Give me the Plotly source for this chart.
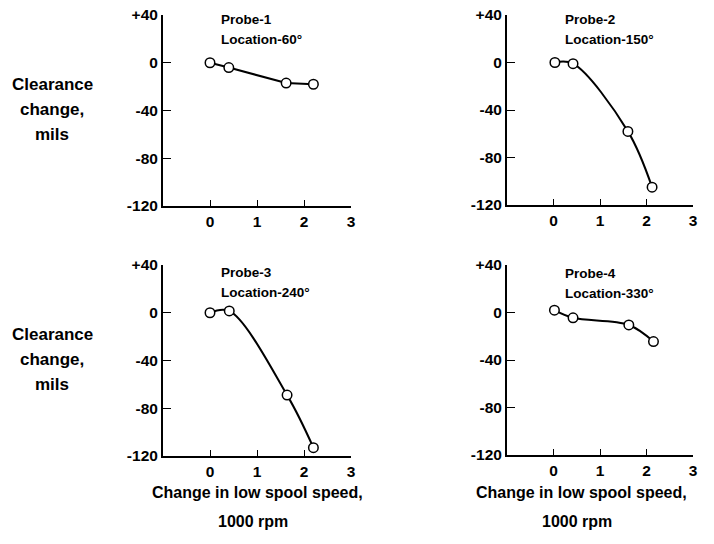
import plotly.graph_objects as go

# ---- data ----
speed_p1 = [0.0, 0.40, 1.62, 2.20]
clear_p1 = [0.0, -4.0, -17.0, -18.0]

speed_p2 = [0.03, 0.42, 1.60, 2.12]
clear_p2 = [0.0, -1.0, -58.0, -105.0]

speed_p3 = [0.0, 0.41, 1.64, 2.20]
clear_p3 = [0.0, 1.5, -69.0, -113.0]

speed_p4 = [0.02, 0.42, 1.62, 2.15]
clear_p4 = [2.0, -4.5, -10.5, -24.5]

probe_names = ["Probe-1", "Probe-2", "Probe-3", "Probe-4"]
probe_locations = ["Location-60°", "Location-150°", "Location-240°", "Location-330°"]

x_ticks = [0, 1, 2, 3]
y_ticks = [40, 0, -40, -80, -120]
y_tick_text = ["+40", "0", "-40", "-80", "-120"]

y_title_lines = ["Clearance", "change,", "mils"]
x_title_lines = ["Change in low spool speed,", "1000 rpm"]

FONT = "Liberation Sans, Arial, sans-serif"
W, H = 714, 544

series = [(speed_p1, clear_p1, "linear"), (speed_p2, clear_p2, "spline"),
          (speed_p3, clear_p3, "spline"), (speed_p4, clear_p4, "spline")]

# panel pixel boxes: (left, right, top, bottom)
boxes = [(163, 351, 15, 206), (507, 693, 15, 205),
         (163, 351, 265, 456), (507, 693, 265, 455)]
label_tops = [19.5, 19.5, 272.5, 273.5]

fig = go.Figure()
layout = dict(width=W, height=H,
              margin=dict(l=0, r=0, t=0, b=0, autoexpand=False),
              paper_bgcolor="white", plot_bgcolor="white", showlegend=False,
              font=dict(family=FONT, color="black", size=15, weight="bold"))

annotations = []


def ann(text, xp, yp, size, xanchor="center"):
    annotations.append(dict(
        text=text, xref="paper", yref="paper", x=xp / W, y=1 - yp / H,
        xanchor=xanchor, yanchor="middle", showarrow=False,
        font=dict(family=FONT, size=size, weight="bold")))


for i, ((xs, ys, shape), (l, r, t, b)) in enumerate(zip(series, boxes)):
    n = "" if i == 0 else str(i + 1)
    fig.add_trace(go.Scatter(
        x=xs, y=ys, mode="lines+markers", xaxis="x" + n, yaxis="y" + n,
        line=dict(color="black", width=2, shape=shape, smoothing=1.0),
        marker=dict(symbol="circle", size=9.5, color="white",
                    line=dict(color="black", width=1.5)),
        cliponaxis=False))
    layout["xaxis" + n] = dict(
        domain=[l / W, r / W], range=[-1, 3], anchor="y" + n,
        automargin=False,
        tickvals=x_ticks, ticks="inside", ticklen=6, tickwidth=1.2,
        tickcolor="black", showline=True, linecolor="black", linewidth=2,
        showgrid=False, zeroline=False, fixedrange=True,
        tickfont=dict(family=FONT, size=15.5, weight="bold"))
    layout["yaxis" + n] = dict(
        domain=[1 - b / H, 1 - t / H], range=[-120, 40], anchor="x" + n,
        automargin=False,
        tickvals=y_ticks, ticktext=y_tick_text, ticks="inside", ticklen=8,
        tickwidth=1.2, tickcolor="black", showline=True, linecolor="black",
        linewidth=2, showgrid=False, zeroline=False, fixedrange=True,
        tickfont=dict(family=FONT, size=15.5, weight="bold"))
    # probe label (two lines)
    ann(probe_names[i], l + 56, label_tops[i], 13.5, "left")
    ann(probe_locations[i], l + 56, label_tops[i] + 20, 13.5, "left")

# y-axis titles
for yc in (84, 334):
    for k, line in enumerate(y_title_lines):
        ann(line, 52, yc + 25 * k, 17)

# x-axis titles
for xc in (257, 581):
    ann(x_title_lines[0], xc, 492, 16)
    ann(x_title_lines[1], xc - 4, 521, 16)

layout["annotations"] = annotations
fig.update_layout(**layout)
fig.write_html("out.html", config={"displayModeBar": False},
               post_script="document.body.style.margin='0';")
